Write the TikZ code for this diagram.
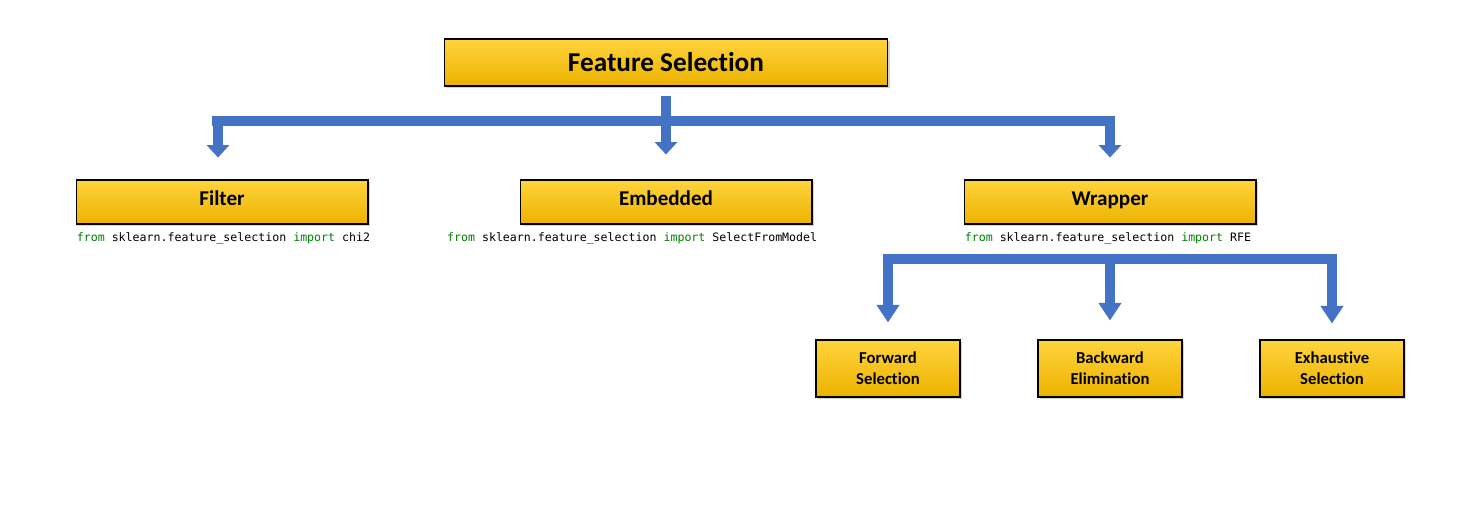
\documentclass[tikz,border=0pt]{standalone}
\usepackage{fontspec}
\setmainfont{Carlito}[Ligatures=NoCommon]
\setmonofont{DejaVu Sans Mono}
\usetikzlibrary{arrows.meta, positioning, shadows}
\definecolor{boxtop}{RGB}{255,212,60}
\definecolor{boxbottom}{RGB}{236,178,0}
\definecolor{flowblue}{RGB}{68,114,196}
\definecolor{codegreen}{RGB}{0,128,0}
\newcommand{\kw}[1]{\textcolor{codegreen}{#1}}

\begin{document}
\begin{tikzpicture}[x=0.02cm, y=-0.02cm,
    catbox/.style={draw=black, line width=0.6pt, top color=boxtop, bottom color=boxbottom,
      drop shadow={shadow xshift=1.2pt, shadow yshift=-1.2pt, opacity=0.35},
      align=center, inner sep=2pt},
    topbox/.style={catbox, minimum width=8.88cm, minimum height=0.94cm,
      font=\fontsize{15.5}{18.6}\selectfont\bfseries},
    midbox/.style={catbox, minimum width=5.84cm, minimum height=0.88cm,
      text height=1.4ex, text depth=0.5ex,
      font=\fontsize{12}{14.4}\selectfont\bfseries},
    lowbox/.style={catbox, minimum width=2.88cm, minimum height=1.14cm,
      font=\fontsize{9.5}{12}\selectfont\bfseries},
    codeline/.style={inner sep=0pt, font=\fontsize{6.6}{8}\selectfont\ttfamily},
    flowbar/.style={flowblue, line width=5.6pt, line cap=rect},
    flowarrow/.style={flowblue, line width=5.6pt, -{Triangle[width=12.5pt,length=7pt]}},
    flowarrowlong/.style={flowblue, line width=5.6pt, -{Triangle[width=12.5pt,length=10pt]}}]
  \useasboundingbox (0,0) rectangle (1458,517);

  % boxes
  \node[topbox] (fs) at (666,62.5) {Feature Selection};
  \node[midbox] (filter) at (222,202) {Filter};
  \node[midbox] (embedded) at (666,202) {Embedded};
  \node[midbox] (wrapper) at (1110,202) {Wrapper};
  \node[lowbox] (forward) at (888,368.5) {Forward\\Selection};
  \node[lowbox] (backward) at (1110,368.5) {Backward\\Elimination};
  \node[lowbox] (exhaustive) at (1332,368.5) {Exhaustive\\Selection};

  % imports
  \node[codeline, below right=0.16cm and 0.02cm of filter.south west] (filtercode)
    {\kw{from} sklearn.feature\_selection \kw{import} chi2};
  \node[codeline, below left=0.16cm and -0.1cm of embedded.south east] (embeddedcode)
    {\kw{from} sklearn.feature\_selection \kw{import} SelectFromModel};
  \node[codeline, below right=0.16cm and 0.02cm of wrapper.south west] (wrappercode)
    {\kw{from} sklearn.feature\_selection \kw{import} RFE};

  % first split
  \coordinate (split) at (666,121);
  \draw[flowbar] ([xshift=-0.1cm]filter.north |- split) -- (wrapper.north |- split);
  \draw[flowarrow] ([yshift=-0.18cm]fs.south) -- ([yshift=0.5cm]embedded.north);
  \draw[flowarrow] ([xshift=-0.08cm]filter.north |- split) -- ([xshift=-0.08cm, yshift=0.44cm]filter.north);
  \draw[flowarrow] (wrapper.north |- split) -- ([yshift=0.44cm]wrapper.north);

  % second split
  \coordinate (split2) at (1110,259);
  \draw[flowbar] (forward.north |- split2) -- (exhaustive.north |- split2);
  \draw[flowarrowlong] (forward.north |- split2) -- ([yshift=0.34cm]forward.north);
  \draw[flowarrowlong] (backward.north |- split2) -- ([yshift=0.38cm]backward.north);
  \draw[flowarrowlong] (exhaustive.north |- split2) -- ([yshift=0.32cm]exhaustive.north);
\end{tikzpicture}
\end{document}
